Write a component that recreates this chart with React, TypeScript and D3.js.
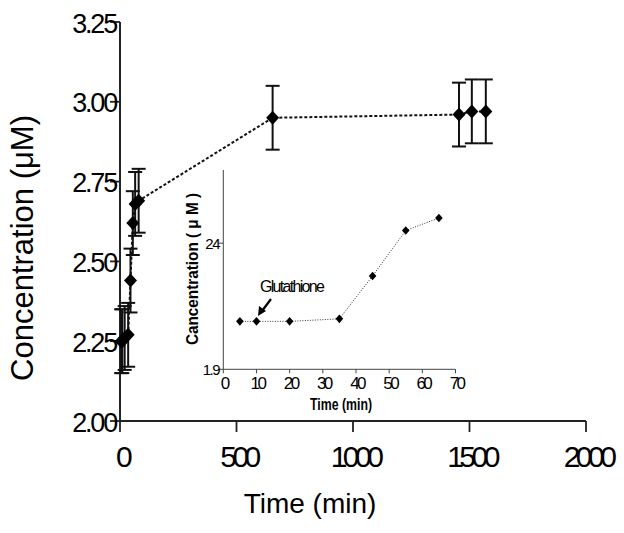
import React from "react";
import * as d3 from "d3";

// ---- Main chart data ----
const mainTimes = [5, 10, 20, 35, 45, 55, 65, 80, 655, 1455, 1510, 1570];
const mainValues = [2.25, 2.25, 2.26, 2.27, 2.44, 2.62, 2.68, 2.69, 2.95, 2.96, 2.97, 2.97];
const mainErrors = [0.1, 0.1, 0.1, 0.1, 0.1, 0.1, 0.1, 0.1, 0.1, 0.1, 0.1, 0.1];
const mainXTicks = [0, 500, 1000, 1500, 2000];
const mainYTicks = [2.0, 2.25, 2.5, 2.75, 3.0, 3.25];

// ---- Inset data ----
const insetTimes = [5, 10, 20, 35, 45, 55, 65];
const insetValues = [2.09, 2.09, 2.09, 2.1, 2.27, 2.45, 2.5];
const insetXTicks = [0, 10, 20, 30, 40, 50, 60, 70];
const insetYTicks = [1.9, 2.4];
const insetYTickLabels = ["1.9", "24"];

const FONT = "'Liberation Sans', Arial, Helvetica, sans-serif";

function diamond(x: number, y: number, w: number, h: number) {
  return `M${x},${y - h}L${x + w},${y}L${x},${y + h}L${x - w},${y}Z`;
}

export default function App() {
  // main scales
  const x = d3.scaleLinear().domain([0, 2000]).range([120, 586]);
  const y = d3.scaleLinear().domain([2.0, 3.25]).range([421, 22]);
  // inset scales
  const xi = d3.scaleLinear().domain([0, 70]).range([223.3, 455.5]);
  const yi = d3.scaleLinear().domain([1.9, 2.69]).range([369.3, 170]);

  const mainPts = mainTimes.map((t, i) => ({ t, v: mainValues[i], e: mainErrors[i] }));
  const insetPts = insetTimes.map((t, i) => ({ t, v: insetValues[i] }));

  const mainLine = d3
    .line<{ t: number; v: number }>()
    .x((d) => x(d.t))
    .y((d) => y(d.v))(mainPts);
  const insetLine = d3
    .line<{ t: number; v: number }>()
    .x((d) => xi(d.t))
    .y((d) => yi(d.v))(insetPts);

  const fmt = d3.format(".2f");

  return (
    <svg
      width={624}
      height={533}
      style={{ position: "absolute", left: 0, top: 0, background: "#fff" }}
      fontFamily={FONT}
    >
      <rect width={624} height={533} fill="#fff" />

      {/* ===== Main axes ===== */}
      <line x1={x(0)} x2={x(2000)} y1={y(2)} y2={y(2)} stroke="#222" strokeWidth={2} />
      <line x1={x(0)} x2={x(0)} y1={y(3.25)} y2={y(2)} stroke="#222" strokeWidth={2} />
      {mainXTicks.map((t) => (
        <g key={"mx" + t}>
          <line x1={x(t)} x2={x(t)} y1={y(2)} y2={y(2) + 11} stroke="#222" strokeWidth={1.8} />
          <text
            x={x(t) + 2}
            y={467}
            fontSize={30}
            textAnchor="middle"
            letterSpacing={-4.5}
            fill="#000"
          >
            {t}
          </text>
        </g>
      ))}
      {mainYTicks.map((v) => (
        <g key={"my" + v}>
          <line x1={x(0) - 10} x2={x(0)} y1={y(v)} y2={y(v)} stroke="#222" strokeWidth={1.8} />
          <text
            x={116}
            y={y(v) + 10.5}
            fontSize={27}
            textAnchor="end"
            letterSpacing={-2.2}
            fill="#000"
          >
            {fmt(v)}
          </text>
        </g>
      ))}
      <text
        transform={`translate(33,248) rotate(-90)`}
        fontSize={31}
        textAnchor="middle"
        fill="#000"
      >
        Concentration (μM)
      </text>
      <text x={310} y={513} fontSize={28} textAnchor="middle" fill="#000">
        Time (min)
      </text>

      {/* main connecting line */}
      <path d={mainLine || ""} fill="none" stroke="#111" strokeWidth={2} strokeDasharray="3,2" />

      {/* error bars */}
      {mainPts.map((p, i) => (
        <g key={"eb" + i} stroke="#111" strokeWidth={2}>
          <line x1={x(p.t)} x2={x(p.t)} y1={y(p.v + p.e)} y2={y(p.v - p.e)} />
          <line x1={x(p.t) - 7} x2={x(p.t) + 7} y1={y(p.v + p.e)} y2={y(p.v + p.e)} />
          <line x1={x(p.t) - 7} x2={x(p.t) + 7} y1={y(p.v - p.e)} y2={y(p.v - p.e)} />
        </g>
      ))}
      {/* diamonds */}
      {mainPts.map((p, i) => (
        <path key={"md" + i} d={diamond(x(p.t), y(p.v), 6.5, 7)} fill="#000" />
      ))}

      {/* ===== Inset ===== */}
      <line x1={xi(0)} x2={xi(70)} y1={yi(1.9)} y2={yi(1.9)} stroke="#444" strokeWidth={1} />
      <line x1={xi(0)} x2={xi(0)} y1={yi(1.9)} y2={yi(2.69)} stroke="#444" strokeWidth={1} />
      {insetXTicks.map((t) => (
        <g key={"ix" + t}>
          <line x1={xi(t)} x2={xi(t)} y1={yi(1.9)} y2={yi(1.9) + 4} stroke="#444" strokeWidth={1} />
          <text
            x={xi(t) + 1}
            y={389}
            fontSize={17}
            textAnchor="middle"
            letterSpacing={-2.6}
            fill="#000"
          >
            {t}
          </text>
        </g>
      ))}
      {insetYTicks.map((v, i) => (
        <g key={"iy" + v}>
          <line x1={xi(0) - 5} x2={xi(0)} y1={yi(v)} y2={yi(v)} stroke="#444" strokeWidth={1} />
          <text
            x={219}
            y={yi(v) + 5.5}
            fontSize={15}
            textAnchor="end"
            letterSpacing={-1.5}
            fill="#000"
          >
            {insetYTickLabels[i]}
          </text>
        </g>
      ))}
      <text
        x={341}
        y={410}
        fontSize={17}
        fontWeight="bold"
        textAnchor="middle"
        textLength={62}
        lengthAdjust="spacingAndGlyphs"
        fill="#000"
      >
        Time (min)
      </text>
      <text
        transform={`translate(198,269) rotate(-90)`}
        fontSize={16}
        fontWeight="bold"
        textAnchor="middle"
        textLength={152}
        lengthAdjust="spacingAndGlyphs"
        fill="#000"
      >
        Cancentration ( μ M )
      </text>

      <path d={insetLine || ""} fill="none" stroke="#333" strokeWidth={1} strokeDasharray="1,1.5" />
      {insetPts.map((p, i) => (
        <path key={"id" + i} d={diamond(xi(p.t), yi(p.v), 3.8, 4.3)} fill="#000" />
      ))}

      {/* annotation */}
      <text x={260} y={292} fontSize={16} letterSpacing={-1.7} fill="#000">
        Glutathione
      </text>
      <line x1={271} y1={299} x2={262} y2={311} stroke="#000" strokeWidth={2.2} />
      <path d="M258,316 L259,306 L266,311 Z" fill="#000" />
    </svg>
  );
}
